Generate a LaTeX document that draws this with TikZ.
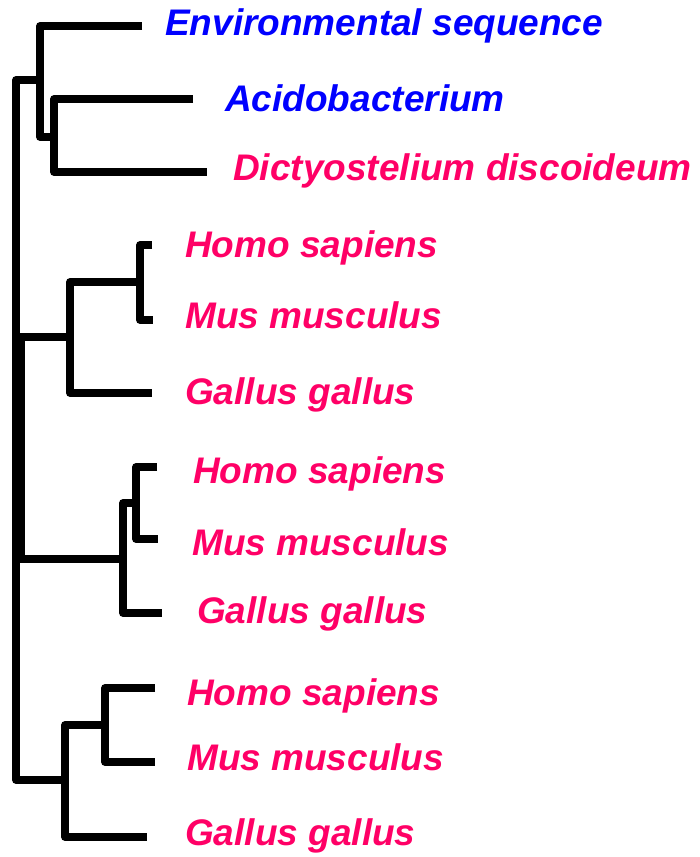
\documentclass[tikz,border=0pt]{standalone}
\usepackage{fontspec}
\setmainfont{Liberation Sans}
\definecolor{tipblue}{RGB}{0,0,255}
\definecolor{tippink}{RGB}{255,0,102}
\begin{document}
\begin{tikzpicture}[x=1pt,y=-1pt,
  branch/.style={line width=7.5pt,line join=round,black},
  taxon/.style={anchor=base west,inner sep=0pt,font=\fontsize{37}{44}\selectfont\bfseries\itshape},
  bluetax/.style={taxon,text=tipblue},
  pinktax/.style={taxon,text=tippink}]
\useasboundingbox (0,0) rectangle (699,857);
% labels
\node[bluetax] (env) at (165,35) {Environmental sequence};
\node[bluetax] (aci) at (225,111) {Acidobacterium};
\node[pinktax] (dic) at (233,180) {Dictyostelium discoideum};
\node[pinktax] (hs1) at (185,257) {Homo sapiens};
\node[pinktax] (mm1) at (185,328) {Mus musculus};
\node[pinktax] (gg1) at (185,404) {Gallus gallus};
\node[pinktax] (hs2) at (193,483) {Homo sapiens};
\node[pinktax] (mm2) at (192,555) {Mus musculus};
\node[pinktax] (gg2) at (197,623) {Gallus gallus};
\node[pinktax] (hs3) at (187,705) {Homo sapiens};
\node[pinktax] (mm3) at (187,770) {Mus musculus};
\node[pinktax] (gg3) at (185,845) {Gallus gallus};
% tips
\coordinate (tenv) at (142,26);
\coordinate (taci) at (193,99);
\coordinate (tdic) at (207,172);
\coordinate (ths1) at (152,245);
\coordinate (tmm1) at (153,320);
\coordinate (tgg1) at (152,393);
\coordinate (ths2) at (157,467);
\coordinate (tmm2) at (158,539);
\coordinate (tgg2) at (162,613);
\coordinate (ths3) at (155,688);
\coordinate (tmm3) at (155,762);
\coordinate (tgg3) at (147,837);
% internal nodes
\coordinate (rtop) at (16,80);
\coordinate (rbot) at (16,780);
\coordinate (a1) at (40,80);
\coordinate (a2) at (54,137);
\coordinate (b0) at (16,337);
\coordinate (b1) at (70,337);
\coordinate (b2) at (140,282);
\coordinate (c0) at (16,559);
\coordinate (c1) at (123,559);
\coordinate (c2) at (136,503);
\coordinate (d1) at (65,780);
\coordinate (d2) at (105,725);
% root
\draw[branch] (a1) -- (rtop) -- (rbot) -- (d1);
\draw[branch] (21,337) -- (21,559);
% clade 1
\draw[branch] (tenv) -| (a1) |- (a2);
\draw[branch] (taci) -| (a2) |- (tdic);
% clade 2
\draw[branch] (b0) -- (b1);
\draw[branch] (b2) -| (b1) |- (tgg1);
\draw[branch] (ths1) -| (b2) |- (tmm1);
% clade 3
\draw[branch] (c0) -- (c1);
\draw[branch] (c2) -| (c1) |- (tgg2);
\draw[branch] (ths2) -| (c2) |- (tmm2);
% clade 4
\draw[branch] (d2) -| (d1) |- (tgg3);
\draw[branch] (ths3) -| (d2) |- (tmm3);
\end{tikzpicture}
\end{document}
